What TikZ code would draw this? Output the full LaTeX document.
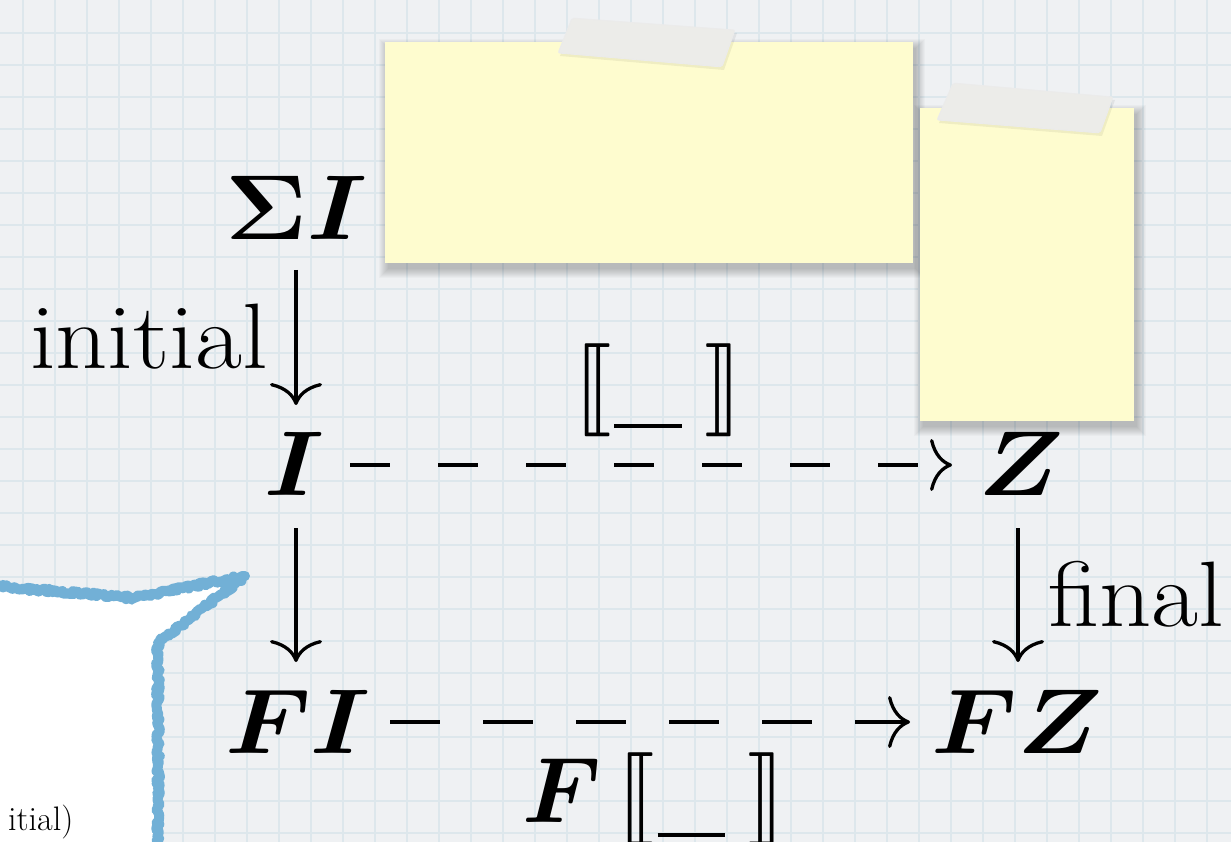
\RequirePackage{fix-cm}
\documentclass[tikz,border=0pt]{standalone}
\usepackage{amsmath,bm,stmaryrd}
\DeclareFontFamily{U}{stmry}{}
\DeclareFontShape{U}{stmry}{m}{n}{<-> stmary10}{}
\usetikzlibrary{arrows.meta,calc,decorations.pathmorphing}
\definecolor{bg}{HTML}{EFF1F3}
\definecolor{gridc}{HTML}{DDE7EC}
\definecolor{note}{HTML}{FEFCCF}
\definecolor{tape}{HTML}{ECECE9}
\definecolor{blueb}{HTML}{72B0D6}
\newcommand\semb{\llbracket\kern0.03em\rule[-0.16em]{0.73em}{0.045em}\kern0.24em\rrbracket}
\newcommand\hw[1]{\scalebox{1.1}[1]{#1}}
\tikzset{
  big/.style={inner sep=0pt, font=\fontsize{92}{110}\selectfont, anchor=base},
  lbl/.style={inner sep=0pt, font=\fontsize{93}{110}\selectfont},
  arr/.style={line width=3.3pt, -{Computer Modern Rightarrow[length=22pt,width=52pt]}},
  dsh/.style={arr, dash pattern=on 40pt off 48pt},
  dshb/.style={arr, dash pattern=on 50pt off 43pt},
  notebox/.style={fill=note},
  tapebox/.style={fill=tape, draw=black!8, line width=0.8pt, rounded corners=2pt},
  bluebord/.style={blueb, line width=10pt, line join=round, decorate,
    decoration={random steps, segment length=2pt, amplitude=1.9pt}},
}
\begin{document}
\begin{tikzpicture}[x=1pt,y=-1pt]
\useasboundingbox (0,0) rectangle (1231,842);
\clip (0,0) rectangle (1231,842);
\fill[bg] (0,0) rectangle (1231,842);
\foreach \x in {23,55,...,1231} \draw[gridc, line width=1.6pt] (\x,0) -- (\x,842);
\foreach \y in {33,65,...,842} \draw[gridc, line width=1.6pt] (0,\y) -- (1231,\y);

% shadows
\foreach \i in {0,...,9} {
  \fill[black, opacity=0.025] (385-\i+3,42-\i+6) rectangle (913+\i+3,263+\i+6);
  \fill[black, opacity=0.025] (920-\i+3,108-\i+6) rectangle (1134+\i+3,421+\i+6);
}
% notes
\fill[notebox] (385,42) rectangle (913,263);
\fill[notebox] (920,108) rectangle (1134,421);
% tapes
\fill[black, opacity=0.06] (574,21) -- (737,33) -- (724,70) -- (560,56) -- cycle;
\draw[tapebox] (572,18) -- (735,30) -- (722,67) -- (558,53) -- cycle;
\fill[black, opacity=0.06] (955,86) -- (1115,100) -- (1102,136) -- (939,123) -- cycle;
\draw[tapebox] (953,83) -- (1113,97) -- (1100,133) -- (937,120) -- cycle;

% white box with blue border
\fill[white] (-30,584) -- (133,598) -- (245,576) -- (158,643) -- (158,880) -- (-30,880) -- cycle;
\draw[bluebord] (-30,584) -- (133,598) -- (245,576) -- (158,643) -- (158,880);
\node[anchor=base west, inner sep=0pt, font=\fontsize{34}{40}\selectfont] (cut) at (8,830) {itial)};

% objects
\node[big] (SI) at (296,240) {\hw{$\bm{\Sigma I}$}};
\node[big] (I) at (294,495) {\hw{$\bm{I}$}};
\node[big] (Z) at (1021,495) {\hw{$\bm{Z}$}};
\node[big] (FI) at (298,753) {\hw{$\bm{FI}$}};
\node[big] (FZ) at (1017,753) {\hw{$\bm{FZ}$}};

% labels
\node[lbl, anchor=base east] (linit) at (268,368) {\hw{initial}};
\node[lbl, anchor=base west] (lfin) at (1048,626) {\hw{final}};
\node[lbl, anchor=base] (lsem) at (658,413) {$\semb$};
\node[lbl, anchor=base] (lfsem) at (654,822) {$\bm{F}\,\semb$};

% arrows
\draw[arr] ($(SI.base)+(0,30)$) -- ($(I.base)+(2,-90)$);
\draw[arr] ($(I.base)+(2,33)$) -- ($(FI.base)+(-2,-91)$);
\draw[arr] ($(Z.base)+(-3,33)$) -- ($(FZ.base)+(1,-91)$);
\draw[dsh] ($(I.base)+(56,-30)$) -- ($(Z.base)+(-69,-30)$);
\draw[dshb] ($(FI.base)+(92,-31)$) -- ($(FZ.base)+(-107,-31)$);
\end{tikzpicture}
\end{document}
